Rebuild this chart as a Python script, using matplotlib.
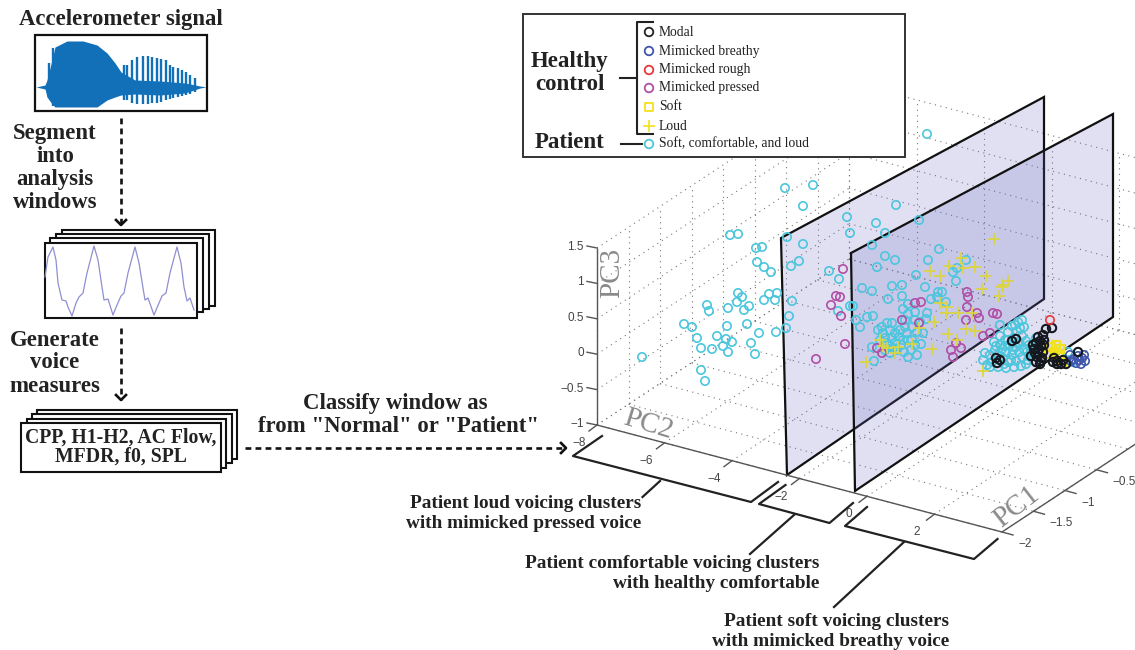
#!/usr/bin/env python3

import matplotlib
matplotlib.use("Agg")
import matplotlib.pyplot as plt
from matplotlib.patches import Polygon, Rectangle

# Points as they sit on the projected 3D plot (x, y) ...
patient = [
    (785, 188), (813, 185), (803, 206), (730, 235), (738, 234), (787, 237), (803, 244), (756, 248), (762, 247),
    (757, 262), (764, 267), (771, 272), (791, 266), (799, 261), (829, 271), (839, 279), (847, 217), (850, 233),
    (738, 293), (742, 297), (737, 302), (707, 305), (709, 311), (728, 308), (744, 310), (749, 306), (764, 300),
    (769, 294), (777, 293), (775, 300), (792, 301), (789, 316), (850, 306), (838, 311), (684, 324), (692, 327),
    (727, 326), (747, 324), (759, 333), (776, 332), (786, 328), (697, 338), (717, 336), (726, 339), (732, 342),
    (723, 346), (701, 348), (712, 349), (728, 352), (751, 343), (755, 354), (642, 357), (701, 370), (705, 381),
    (927, 134), (896, 205), (876, 223), (885, 233), (919, 220), (872, 245), (885, 256), (895, 260), (877, 267),
    (939, 249), (928, 260), (966, 260), (957, 268), (953, 272), (956, 281), (916, 275), (862, 288), (872, 291),
    (892, 286), (902, 285), (925, 287), (888, 299), (902, 296), (931, 299), (938, 292), (942, 292), (937, 297),
    (946, 302), (853, 306), (903, 309), (908, 304), (915, 312), (908, 314), (927, 313), (926, 319), (873, 316),
    (867, 317), (856, 320), (860, 327), (882, 327), (887, 323), (892, 323), (883, 333), (890, 330), (895, 333),
    (892, 338), (887, 343), (895, 343), (880, 340), (905, 327), (912, 327), (907, 333), (917, 332), (923, 333),
    (908, 340), (921, 344), (872, 347), (890, 353), (908, 357), (917, 355), (874, 361), (1000, 325),
    (878, 330), (885, 338), (890, 346), (899, 337), (901, 345), (885, 350), (900, 330), (897, 350), (903, 340),
    (912, 340), (915, 320), (905, 320), (920, 322), (884, 345), (893, 348), (911, 350), (904, 352), (915, 345),
    (983, 360), (987, 365), (990, 355), (995, 350), (992, 362), (998, 367), (1000, 345), (1005, 340), (1008, 332),
    (1012, 326), (1018, 322), (1022, 320), (1024, 327), (1017, 331), (1022, 336), (1014, 338), (1010, 345),
    (1016, 347), (1006, 352), (1012, 355), (1003, 358), (1009, 362), (1016, 361), (1022, 357), (1027, 352),
    (1029, 345), (1026, 341), (1020, 344), (998, 355), (1004, 364), (1014, 367), (1021, 366), (1028, 360),
    (1033, 356), (1034, 348), (1036, 338), (1000, 336), (994, 342), (985, 353), (1002, 349), (1013, 350),
    (1019, 352), (1026, 364), (1068, 352), (1072, 362), (1008, 340), (1015, 325), (1020, 328), (1005, 346),
    (996, 346), (1011, 360), (1018, 342), (1031, 350), (1006, 368), (990, 367), (1024, 349),
]
pressed = [
    (843, 269), (836, 296), (831, 305), (841, 316), (845, 344), (816, 359), (840, 297), (915, 303), (921, 302),
    (902, 320), (919, 323), (967, 292), (968, 297), (967, 307), (966, 320), (977, 313), (979, 318), (993, 313),
    (997, 314), (983, 336), (990, 333), (956, 343), (961, 348), (951, 350), (953, 357), (877, 348), (882, 353),
]
loud = [
    (994, 239), (961, 258), (949, 266), (975, 267), (963, 268), (930, 271), (940, 276), (986, 276), (982, 289),
    (1008, 281), (1003, 285), (1002, 287), (999, 296), (940, 303), (947, 307), (946, 313), (958, 313), (934, 322),
    (972, 313), (919, 328), (966, 329), (975, 331), (948, 334), (957, 340), (932, 349), (912, 344), (883, 346),
    (898, 347), (895, 353), (866, 362), (983, 371), (880, 340), (887, 348),
]
soft = [(1051, 347), (1056, 345), (1060, 349), (1054, 352), (1049, 354), (1059, 355), (1062, 363)]
modal = [
    (1052, 328), (1046, 329), (1043, 335), (1038, 337), (1044, 340), (1036, 343), (1041, 346), (1034, 349),
    (1038, 352), (1043, 352), (1031, 356), (1037, 357), (1042, 358), (1036, 362), (1040, 364), (996, 358),
    (1000, 360), (997, 363), (1012, 341), (1016, 339), (1057, 361), (1061, 364), (1063, 360), (1054, 358),
    (1066, 364), (1078, 352), (1040, 341), (1035, 353), (1044, 345), (1033, 345), (1039, 349), (1041, 361),
    (1057, 364), (1053, 362),
]
breathy = [
    (1070, 355), (1074, 359), (1078, 356), (1082, 358), (1085, 361), (1076, 363), (1081, 364), (1071, 361),
    (1084, 355), (1079, 360),
]
rough = [(1050, 320)]

# Tick values of the three axes ...
pc2_ticks = [-8, -6, -4, -2, 0, 2]
pc1_ticks = [-2, -1.5, -1, -0.5]
pc3_ticks = [-1, -0.5, 0, 0.5, 1, 1.5]
pc1_grid = [-2, -1.5, -1, -0.5, 0, 0.5, 1, 1.5, 2]
pc2_grid = [-8, -6, -4, -2, 0, 2, 4]

# Accelerometer waveform envelope, then the separate glottal spikes ...
burst_x = [36, 45, 47, 52, 55, 67, 83, 97, 107, 115, 121, 135, 160, 185, 200, 206]
burst_top = [87, 85, 80, 60, 47, 41, 41, 45, 53, 63, 72, 80, 81, 83, 86, 87]
burst_bot = [87, 89, 97, 104, 107, 107, 107, 107, 100, 97, 95, 94, 95, 93, 88, 87]
spike_x = [49, 53, 124, 127, 132, 137, 143, 148, 152, 157, 161, 166, 170, 173, 178, 182, 186, 190, 195]
spike_top = [63, 48, 65, 65, 60, 57, 56, 56, 57, 58, 59, 60, 65, 67, 68, 70, 72, 75, 78]
spike_bot = [98, 106, 100, 100, 103, 104, 104, 104, 103, 103, 102, 100, 99, 98, 97, 96, 95, 94, 92]

# Windowed waveform in the stacked box ...
window_x = [45, 48, 53, 56, 58, 62, 66, 68, 72, 76, 79, 83, 87, 94, 98, 102, 104, 108, 113, 117, 121, 124, 128, 135,
            139, 143, 145, 148, 154, 159, 162, 166, 170, 177, 181, 184, 187, 190, 194]
window_y = [277, 257, 247, 260, 283, 300, 301, 307, 316, 303, 297, 293, 273, 246, 260, 287, 300, 299, 315, 305, 296,
            293, 273, 247, 263, 288, 300, 298, 315, 303, 296, 293, 273, 247, 263, 287, 301, 298, 310]

CYAN, PURPLE, YELLOW, BLACK, BLUE, RED = "#4cc6dd", "#b04fa5", "#dcd63a", "#15181f", "#3f55ad", "#e8383d"
INK = "#222222"
SERIF = ["Liberation Serif", "DejaVu Serif"]

# Plot box of the 3D view as a parallel projection ...
def project(pc1, pc2, pc3):
    a = (pc2 + 8.0) / 12.0
    b = (pc1 + 2.0) / 4.0
    c = (pc3 + 1.0) / 2.5
    return (597.0 + 405.0 * a + 252.0 * b, 425.0 + 107.0 * a - 166.0 * b - 177.0 * c)

def line3(ax, p, q, **kw):
    xa, ya = project(*p)
    xb, yb = project(*q)
    ax.plot([xa, xb], [ya, yb], solid_capstyle = "butt", **kw)

def boxes(ax, lefts, tops, rights, bottoms, lw = 1.5):
    for l, t, r, b in zip(lefts, tops, rights, bottoms):
        ax.add_patch(Rectangle((l, t), r - l, b - t, facecolor = "white", edgecolor = "#111111", linewidth = lw))

def dashed_arrow(ax, xa, ya, xb, yb):
    ax.plot([xa, xb], [ya, yb], color = "#111111", linewidth = 1.9, linestyle = (0, (2.2, 1.6)))
    if xa == xb:
        ax.plot([xb - 5, xb, xb + 5], [yb - 5, yb, yb - 5], color = "#111111", linewidth = 1.9)
    else:
        ax.plot([xb - 5, xb, xb - 5], [yb - 5, yb, yb + 5], color = "#111111", linewidth = 1.9)

def scatter(ax, pts, color, marker = "o", size = 36, lw = 1.2, zorder = 5):
    xs = [p[0] for p in pts]
    ys = [p[1] for p in pts]
    if marker == "+":
        ax.scatter(xs, ys, s = size, c = color, marker = marker, linewidths = lw, zorder = zorder)
    else:
        ax.scatter(xs, ys, s = size, facecolors = "none", edgecolors = color, marker = marker, linewidths = lw, zorder = zorder)

fg = plt.figure(figsize = (11.35, 6.5), dpi = 100)
ax = fg.add_axes([0, 0, 1, 1])
ax.set_xlim(0, 1135)
ax.set_ylim(650, 0)
ax.axis("off")

grid = dict(color = "#777777", linewidth = 0.8, linestyle = (0, (1, 4)), zorder = 1)

# Floor, left wall and back wall grid ...
for v in pc2_grid:
    line3(ax, (-2, v, -1), (2, v, -1), **grid)
    line3(ax, (2, v, -1), (2, v, 1.5), **grid)
for v in pc1_grid:
    line3(ax, (v, -8, -1), (v, 4, -1), **grid)
    line3(ax, (v, -8, -1), (v, -8, 1.5), **grid)
for v in pc3_ticks:
    line3(ax, (-2, -8, v), (2, -8, v), **grid)
    line3(ax, (2, -8, v), (2, 4, v), **grid)

# Decision planes ...
for pts in ([(781, 238), (1044, 97), (1044, 299), (787, 475)], [(851, 253), (1113, 114), (1113, 317), (855, 491)]):
    ax.add_patch(Polygon(pts, closed = True, facecolor = (0.4, 0.4, 0.75, 0.2), edgecolor = "#111111", linewidth = 1.6, zorder = 2))

# Axis lines, ticks and tick labels ...
axis = dict(color = "#555555", linewidth = 1.0, zorder = 3)
line3(ax, (-2, -8, -1), (-2, -8, 1.5), **axis)
line3(ax, (-2, -8, -1), (-2, 4, -1), **axis)
line3(ax, (-2, 4, -1), (2, 4, -1), **axis)
tick_font = dict(family = ["Liberation Sans", "DejaVu Sans"], fontsize = 8.5, color = "#444444", ha = "center", va = "center")
for v in pc3_ticks:
    x, y = project(-2, -8, v)
    ax.plot([x - 10, x], [y - 2, y], **axis)
    ax.text(x - 13, y - 1, f"{v:g}".replace("-", "\u2212"), **{**tick_font, "ha": "right"})
for v in pc2_ticks:
    x, y = project(-2, v, -1)
    ax.plot([x - 8, x], [y + 6, y], **axis)
    ax.text(x - 18, y + 18, f"{v:g}".replace("-", "\u2212"), **tick_font)
for v in pc1_ticks:
    x, y = project(v, 4, -1)
    ax.plot([x, x + 11], [y, y + 3], **axis)
    ax.text(x + 16, y + 12, f"{v:g}".replace("-", "\u2212"), **{**tick_font, "ha": "left"})
ax.text(648, 425, "PC2", family = SERIF, fontsize = 21, color = "#8a8a8a", rotation = -17, ha = "center", va = "center")
ax.text(1017, 507, "PC1", family = SERIF, fontsize = 21, color = "#8a8a8a", rotation = 38, ha = "center", va = "center")
ax.text(612, 273, "PC3", family = SERIF, fontsize = 21, color = "#8a8a8a", rotation = 90, ha = "center", va = "center")

# Series ...
scatter(ax, patient, CYAN)
scatter(ax, pressed, PURPLE)
scatter(ax, loud, YELLOW, marker = "+", size = 85, lw = 1.2)
scatter(ax, soft, "#f2e21e", marker = "s", size = 30, lw = 1.6, zorder = 6)
scatter(ax, breathy, BLUE, zorder = 6)
scatter(ax, modal, BLACK, lw = 1.5, zorder = 6)
scatter(ax, rough, RED, zorder = 7)

# Legend ...
ax.add_patch(Rectangle((523, 14), 382, 143, facecolor = "white", edgecolor = "#333333", linewidth = 1.4, zorder = 8))
legend_labels = ["Modal", "Mimicked breathy", "Mimicked rough", "Mimicked pressed", "Soft", "Loud", "Soft, comfortable, and loud"]
legend_y = [32, 51, 70, 88, 107, 126, 144]
legend_colors = ["#222222", BLUE, RED, PURPLE, "#f2e21e", "#f2e21e", CYAN]
legend_markers = ["o", "o", "o", "o", "s", "+", "o"]
for label, y, color, marker in zip(legend_labels, legend_y, legend_colors, legend_markers):
    if marker == "+":
        ax.scatter([649], [y], s = 85, c = color, marker = "+", linewidths = 1.2, zorder = 9)
    else:
        ax.scatter([649], [y], s = 38, facecolors = "none", edgecolors = color, marker = marker, linewidths = 1.3, zorder = 9)
    ax.text(659, y, label, family = SERIF, fontsize = 9.85, color = INK, va = "center", zorder = 9)
ax.plot([653, 637, 637, 653], [22, 22, 134, 134], color = "#222222", linewidth = 1.5, zorder = 9)
ax.plot([620, 637], [78, 78], color = "#222222", linewidth = 1.5, zorder = 9)
ax.plot([621, 642], [144, 144], color = "#222222", linewidth = 1.5, zorder = 9)
bold = dict(family = SERIF, fontweight = "bold", color = INK, ha = "center", va = "center")
ax.text(570, 62, "Healthy", fontsize = 16.5, zorder = 9, **bold)
ax.text(570, 85, "control", fontsize = 16.5, zorder = 9, **bold)
ax.text(570, 143, "Patient", fontsize = 16.5, zorder = 9, **bold)

# Accelerometer signal panel ...
ax.text(121, 20, "Accelerometer signal", fontsize = 16.4, **bold)
ax.add_patch(Rectangle((35, 35), 172, 76, facecolor = "white", edgecolor = "#111111", linewidth = 1.6))
ax.fill_between(burst_x, burst_top, burst_bot, color = "#1270b8", linewidth = 0, zorder = 2)
ax.vlines(spike_x, spike_top, spike_bot, color = "#1270b8", linewidth = 1.7, zorder = 2)
ax.text(55, 134, "Segment", fontsize = 16.4, **bold)
ax.text(55, 157, "into", fontsize = 16.4, **bold)
ax.text(55, 180, "analysis", fontsize = 16.4, **bold)
ax.text(55, 202, "windows", fontsize = 16.4, **bold)
dashed_arrow(ax, 121, 118, 121, 225)

# Analysis windows panel ...
boxes(ax, [62, 56, 50, 45], [230, 234, 238, 243], [215, 209, 203, 197], [306, 309, 312, 318])
ax.plot(window_x, window_y, color = "#8f8fd0", linewidth = 0.9, zorder = 3)
ax.text(55, 340, "Generate", fontsize = 16.4, **bold)
ax.text(55, 363, "voice", fontsize = 16.4, **bold)
ax.text(55, 386, "measures", fontsize = 16.4, **bold)
dashed_arrow(ax, 121, 328, 121, 400)

# Voice measures panel ...
boxes(ax, [37, 32, 27, 21], [410, 414, 419, 423], [237, 232, 226, 221], [459, 463, 468, 472])
ax.text(121, 438, "CPP, H1-H2, AC Flow,", fontsize = 14.2, zorder = 3, **bold)
ax.text(121, 457, "MFDR, f0, SPL", fontsize = 14.2, zorder = 3, **bold)
dashed_arrow(ax, 245, 448, 566, 448)
ax.text(395, 403, "Classify window as", fontsize = 16.4, **bold)
ax.text(398, 427, "from \"Normal\" or \"Patient\"", fontsize = 16.4, **bold)

# Cluster brackets and their notes ...
bracket = dict(color = "#222222", linewidth = 1.6, zorder = 4)
ax.plot([602, 573, 751, 778], [436, 456, 502, 482], **bracket)
ax.plot([660, 642.5], [481, 497], **bracket)
ax.plot([785.5, 759, 829.5, 853], [485, 504, 523, 503], **bracket)
ax.plot([794, 750], [515, 554], **bracket)
ax.plot([867, 845, 974, 997.5], [507, 526, 559, 539], **bracket)
ax.plot([904, 834], [542, 607], **bracket)
notes = [
    (641, 503, "Patient loud voicing clusters"), (641, 523, "with mimicked pressed voice"),
    (819, 564, "Patient comfortable voicing clusters"), (819, 583, "with healthy comfortable"),
    (949, 621, "Patient soft voicing clusters"), (949, 641, "with mimicked breathy voice"),
]
for x, y, label in notes:
    ax.text(x, y, label, fontsize = 13.9, **{**bold, "ha": "right"})

fg.savefig("out.png", dpi = 100)
plt.close(fg)
